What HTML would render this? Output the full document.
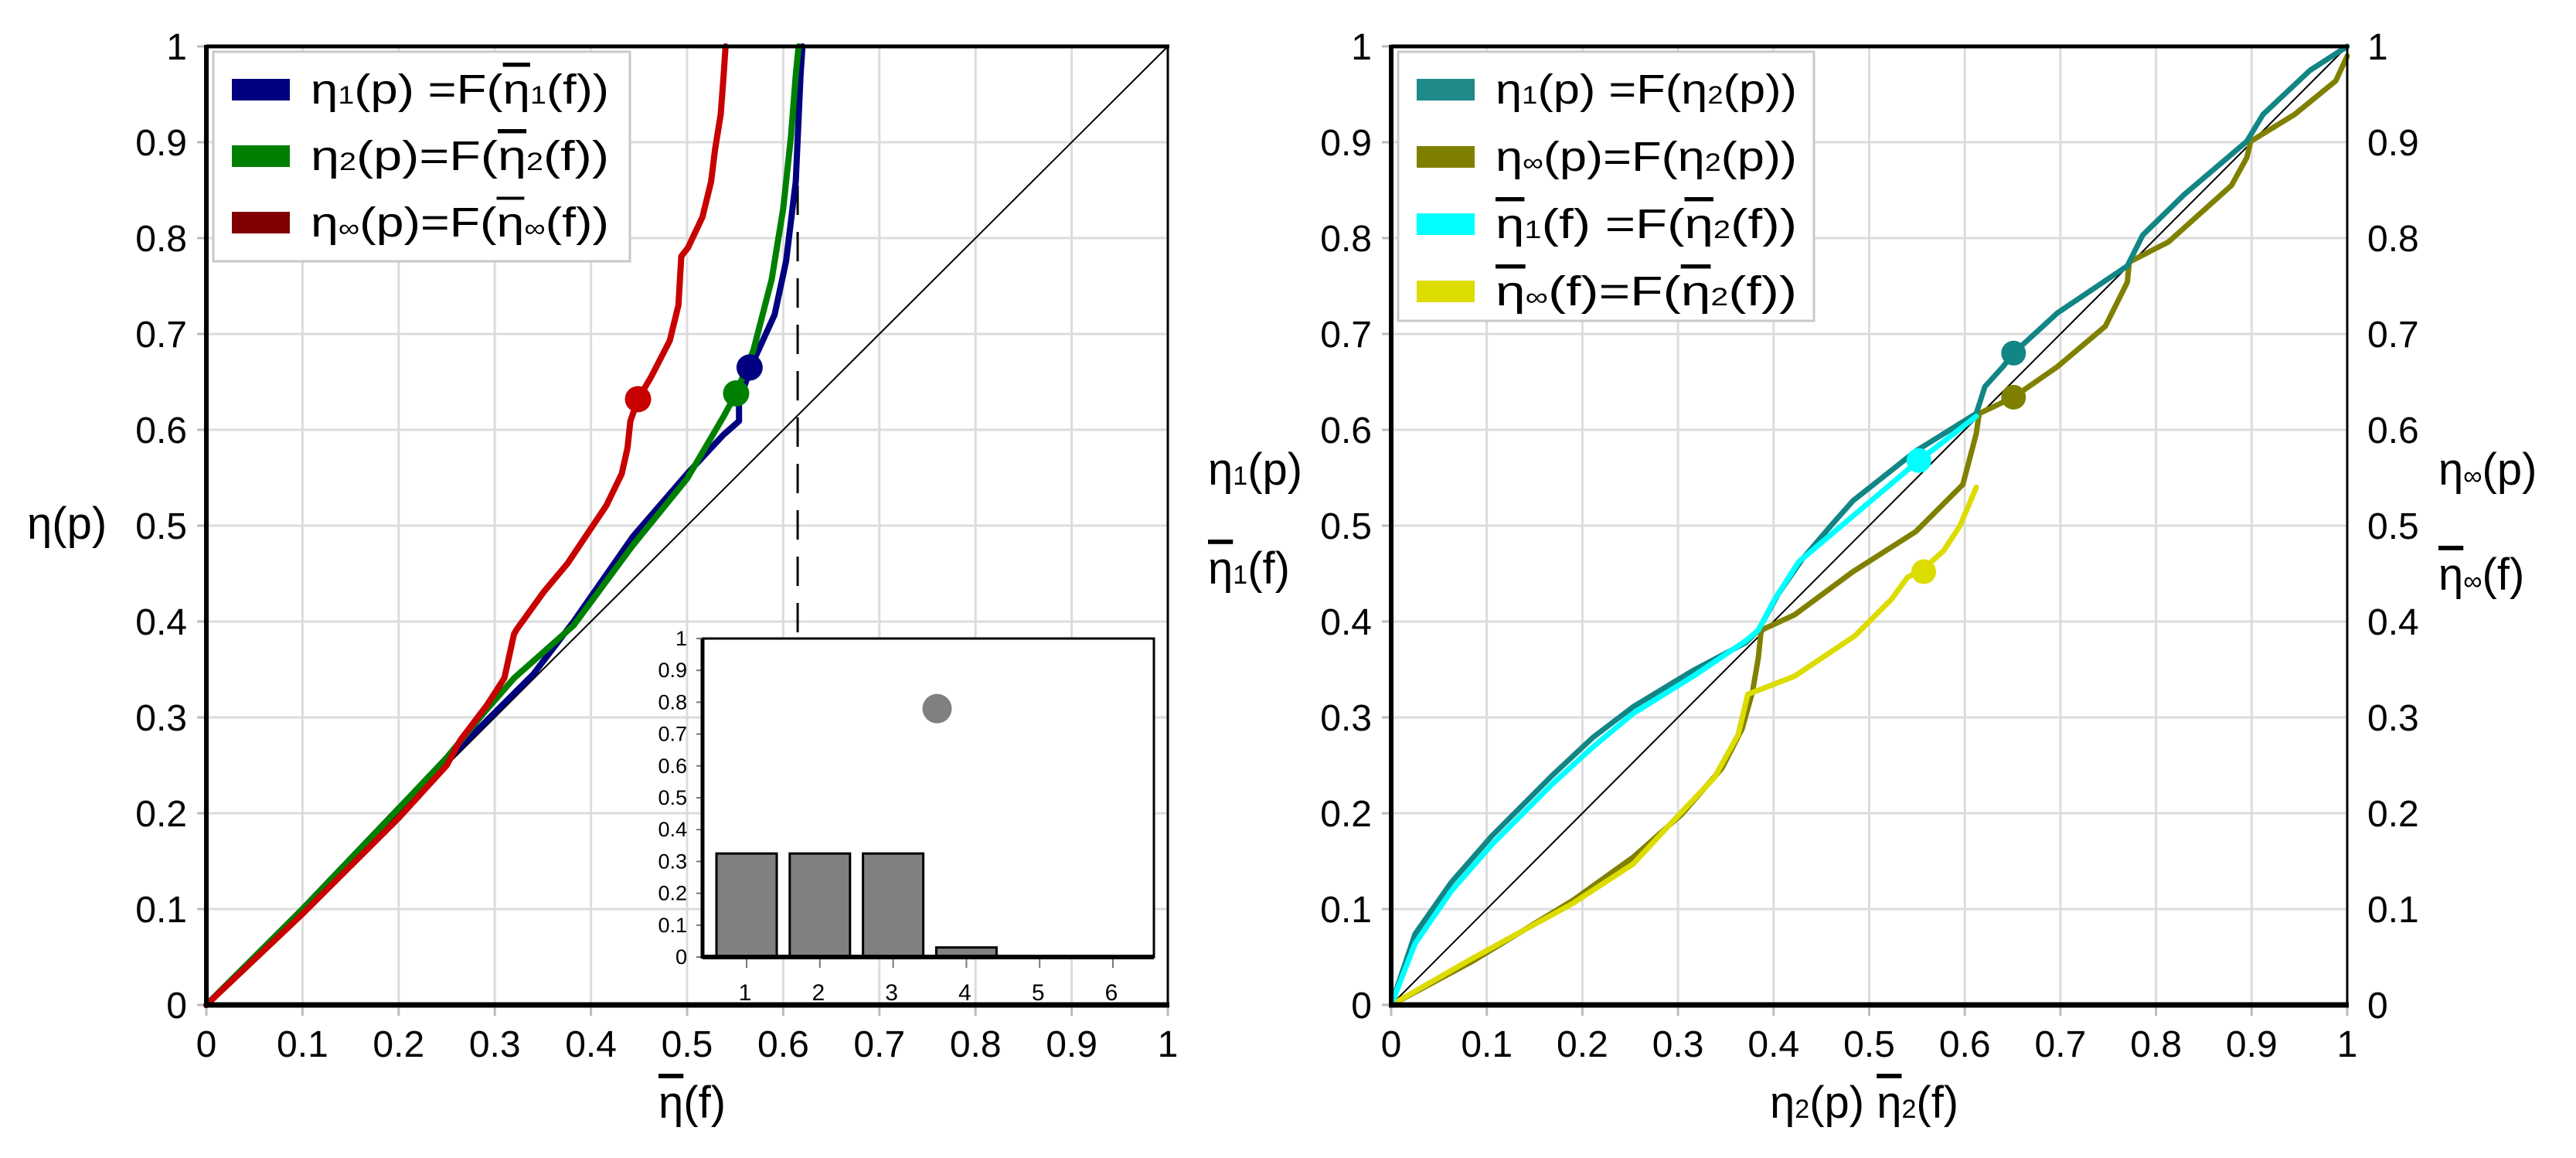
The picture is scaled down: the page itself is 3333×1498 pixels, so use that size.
<!DOCTYPE html>
<html><head><meta charset="utf-8"><title>Efficiency curves</title>
<style>
html,body{margin:0;padding:0;background:#fff;}
svg{display:block;font-family:"Liberation Sans",sans-serif;}
.ob{text-decoration:overline;}
</style></head>
<body>
<svg id="chart" width="3333" height="1498" viewBox="0 0 3333 1498" xmlns="http://www.w3.org/2000/svg">
<rect x="0" y="0" width="3333" height="1498" fill="#fff"/>
<g id="left"></g>
<g id="right"></g>
<g id="inset"></g>
<g id="labels">
  <text x="35" y="697" font-size="58">η(p)</text>
  <text x="852" y="1446" font-size="58"><tspan class="ob">η</tspan>(f)</text>
  <text x="1563" y="627" font-size="58">η<tspan font-size="34">1</tspan>(p)</text>
  <text x="1563" y="755" font-size="58"><tspan class="ob">η</tspan><tspan font-size="34">1</tspan>(f)</text>
  <text x="3155" y="627" font-size="58">η<tspan font-size="34">∞</tspan>(p)</text>
  <text x="3155" y="763" font-size="58"><tspan class="ob">η</tspan><tspan font-size="34">∞</tspan>(f)</text>
  <text x="2290" y="1446" font-size="58">η<tspan font-size="34">2</tspan>(p) <tspan class="ob">η</tspan><tspan font-size="34">2</tspan>(f)</text>
</g>
<g id="legends"></g>
</svg>
<script>
// ---------- data ----------
const tickValues = [0,0.1,0.2,0.3,0.4,0.5,0.6,0.7,0.8,0.9,1];
const tickLabels = ["0","0.1","0.2","0.3","0.4","0.5","0.6","0.7","0.8","0.9","1"];

// left chart series
const eta1X = [0,0.1,0.2,0.26,0.3,0.34,0.382,0.444,0.5,0.538,0.554,0.554,0.566,0.591,0.603,0.613,0.618,0.62];
const eta1Y = [0,0.1,0.205,0.265,0.305,0.345,0.40,0.489,0.554,0.595,0.609,0.628,0.665,0.72,0.776,0.859,0.97,1.0];
const eta2X = [0,0.1,0.2,0.25,0.288,0.32,0.382,0.444,0.5,0.538,0.551,0.569,0.588,0.6,0.608,0.613,0.616];
const eta2Y = [0,0.1,0.205,0.258,0.304,0.341,0.396,0.48,0.549,0.614,0.638,0.683,0.757,0.831,0.906,0.97,1.0];
const etaInfX = [0,0.1,0.2,0.25,0.264,0.292,0.31,0.32,0.323,0.351,0.376,0.398,0.416,0.432,0.438,0.441,0.449,0.463,0.482,0.491,0.494,0.501,0.516,0.525,0.529,0.535,0.538,0.54];
const etaInfY = [0,0.095,0.195,0.25,0.276,0.313,0.341,0.387,0.392,0.431,0.461,0.494,0.521,0.554,0.581,0.609,0.632,0.656,0.693,0.730,0.781,0.790,0.822,0.859,0.892,0.929,0.970,1.0];
const leftDotsX = [0.565,0.551,0.449];
const leftDotsY = [0.665,0.638,0.632];
const dashedX = 0.615;

// right chart series
const tealX = [0,0.025,0.063,0.105,0.169,0.211,0.253,0.316,0.371,0.384,0.405,0.43,0.46,0.483,0.549,0.612,0.621,0.64,0.651,0.697,0.77,0.786,0.829,0.895,0.912,0.961,1.0];
const tealY = [0,0.074,0.128,0.176,0.24,0.279,0.311,0.349,0.378,0.391,0.429,0.465,0.5,0.526,0.578,0.617,0.645,0.666,0.68,0.722,0.771,0.803,0.845,0.901,0.929,0.975,1.0];
const oliveX = [0,0.084,0.19,0.253,0.304,0.346,0.367,0.378,0.384,0.387,0.422,0.483,0.549,0.598,0.612,0.615,0.651,0.697,0.747,0.77,0.772,0.813,0.879,0.895,0.899,0.945,0.988,1.0];
const oliveY = [0,0.045,0.109,0.154,0.199,0.247,0.288,0.327,0.362,0.391,0.407,0.452,0.494,0.543,0.596,0.617,0.634,0.666,0.708,0.754,0.775,0.796,0.855,0.884,0.901,0.929,0.964,0.99];
const cyanX = [0,0.025,0.063,0.105,0.169,0.211,0.253,0.316,0.371,0.384,0.401,0.426,0.477,0.552,0.612];
const cyanY = [0,0.064,0.119,0.167,0.231,0.269,0.304,0.343,0.38,0.391,0.423,0.462,0.505,0.568,0.614];
const yellowX = [0,0.084,0.19,0.253,0.295,0.338,0.363,0.373,0.422,0.485,0.523,0.54,0.557,0.578,0.595,0.612];
const yellowY = [0,0.048,0.106,0.147,0.192,0.237,0.282,0.324,0.343,0.385,0.423,0.446,0.455,0.474,0.50,0.54];
const rightDotsX = [0.651,0.651,0.552,0.557];
const rightDotsY = [0.68,0.634,0.568,0.452];

// inset bars
const barCats = ["1","2","3","4","5","6"];
const barVals = [0.325,0.325,0.325,0.03,0,0];
const insetDotCat = 3.6;
const insetDotVal = 0.78;
const insetTickLabels = ["0","0.1","0.2","0.3","0.4","0.5","0.6","0.7","0.8","0.9","1"];
const insetTickValues = [0,0.1,0.2,0.3,0.4,0.5,0.6,0.7,0.8,0.9,1];

// ---------- helpers ----------
const NS = "http://www.w3.org/2000/svg";
function mk(tag, attrs, parent){
  const e = document.createElementNS(NS, tag);
  for (const k in attrs) e.setAttribute(k, attrs[k]);
  parent.appendChild(e);
  return e;
}
function axes(L, R, T, B){
  return { x: v => L + v*(R-L), y: v => B - v*(B-T), L, R, T, B };
}

function drawFrame(g, ax, rightLabels){
  tickValues.forEach((v,i)=>{
    if (i>0 && i<10){
      const gx = mk('line',{x1:ax.x(v),x2:ax.x(v),y1:ax.T,y2:ax.B,stroke:'#dcdcdc','stroke-width':3},g);
      
      
      const gy = mk('line',{x1:ax.L,x2:ax.R,y1:ax.y(v),y2:ax.y(v),stroke:'#dcdcdc','stroke-width':3},g);
      
      
    }
    const tx = mk('line',{x1:ax.x(v),x2:ax.x(v),y1:ax.B,y2:ax.B+14,stroke:'#bbb','stroke-width':3},g);
    
    
    const ty = mk('line',{x1:ax.L-12,x2:ax.L,y1:ax.y(v),y2:ax.y(v),stroke:'#bbb','stroke-width':3},g);
    
    
    const xl = mk('text',{x:ax.x(v),y:1367,'font-size':48,'text-anchor':'middle'},g);
    xl.textContent = tickLabels[i];
    
    
    const yl = mk('text',{x:ax.L-25,y:ax.y(v)+17,'font-size':48,'text-anchor':'end'},g);
    yl.textContent = tickLabels[i];
    
    
    if (rightLabels){
      const rl = mk('text',{x:ax.R+26,y:ax.y(v)+17,'font-size':48,'text-anchor':'start'},g);
      rl.textContent = tickLabels[i];
      
      
    }
  });
  const diag = mk('line',{x1:ax.x(0),y1:ax.y(0),x2:ax.x(1),y2:ax.y(1),stroke:'#000','stroke-width':2},g);
  
  
}
function drawBorders(g, ax){
  const t = mk('line',{x1:ax.L,x2:ax.R+2,y1:ax.T,y2:ax.T,stroke:'#000','stroke-width':5},g);
  
  
  const r = mk('line',{x1:ax.R,x2:ax.R,y1:ax.T,y2:ax.B,stroke:'#000','stroke-width':3},g);
  
  
  const l = mk('line',{x1:ax.L,x2:ax.L,y1:ax.T-2,y2:ax.B+3,stroke:'#000','stroke-width':6},g);
  
  
  const b = mk('line',{x1:ax.L-3,x2:ax.R+2,y1:ax.B,y2:ax.B,stroke:'#000','stroke-width':7},g);
  
  
}
function drawLine(g, ax, xs, ys, color, w, name){
  const d = xs.map((v,i)=>(i?'L':'M')+ax.x(v).toFixed(1)+','+ax.y(ys[i]).toFixed(1)).join(' ');
  const p = mk('path',{d:d,fill:'none',stroke:color,'stroke-width':w,'stroke-linejoin':'round','stroke-linecap':'round'},g);
  
  
}
function drawDot(g, ax, x, y, color, r, name){
  const c = mk('circle',{cx:ax.x(x),cy:ax.y(y),r:r,fill:color},g);
  
  
}
function legend(parent, x, y, w, h, entries, rowStart, rowGap, name){
  const g = mk('g',{},parent);
  
  
  mk('rect',{x:x,y:y,width:w,height:h,fill:'#fff',stroke:'#c8c8c8','stroke-width':3},g);
  entries.forEach((e,i)=>{
    const cy = rowStart + i*rowGap;
    const eg = mk('g',{},g);
    
    
    mk('rect',{x:x+24,y:cy-14,width:75,height:28,fill:e.c},eg);
    const t = mk('text',{x:x+126,y:cy+18,'font-size':54,textLength:e.w,lengthAdjust:'spacingAndGlyphs'},eg);
    t.innerHTML = e.t;
  });
}

// ---------- left chart ----------
const gl = document.getElementById('left');
const axL = axes(267,1511,60,1300);
drawFrame(gl, axL, false);
const dash = mk('line',{x1:axL.x(dashedX),x2:axL.x(dashedX),y1:axL.T,y2:820,stroke:'#000','stroke-width':3,'stroke-dasharray':'38,22'},gl);


drawLine(gl, axL, eta1X, eta1Y, '#000080', 8, 'eta1-line');
drawLine(gl, axL, eta2X, eta2Y, '#008000', 8, 'eta2-line');
drawLine(gl, axL, etaInfX, etaInfY, '#c80000', 8, 'eta-inf-line');
drawDot(gl, axL, leftDotsX[0], leftDotsY[0], '#000080', 17, 'eta1-point');
drawDot(gl, axL, leftDotsX[1], leftDotsY[1], '#008000', 17, 'eta2-point');
drawDot(gl, axL, leftDotsX[2], leftDotsY[2], '#c80000', 17, 'eta-inf-point');
drawBorders(gl, axL);

// ---------- inset ----------
const gi = document.getElementById('inset');
const iL=909, iR=1493, iT=826, iB=1238;
mk('rect',{x:iL,y:iT,width:iR-iL,height:iB-iT,fill:'#fff',stroke:'#000','stroke-width':3},gi);
const iy = v => iB - v*(iB-iT);
const ix = c => 966 + (c-1)*94.8;
insetTickValues.forEach((v,i)=>{
  const tk = mk('line',{x1:iL-8,x2:iL,y1:iy(v),y2:iy(v),stroke:'#777','stroke-width':2},gi);
  
  
  const t = mk('text',{x:iL-20,y:iy(v)+9,'font-size':27,'text-anchor':'end'},gi);
  t.textContent = insetTickLabels[i];
  
  
});
barCats.forEach((c,i)=>{
  const cx = ix(i+1);
  if (barVals[i]>0){
    const b = mk('rect',{x:cx-39,y:iy(barVals[i]),width:78,height:iy(0)-iy(barVals[i]),fill:'#808080',stroke:'#000','stroke-width':3},gi);
    
    
  }
  const tk = mk('line',{x1:cx,x2:cx,y1:iB,y2:iB+14,stroke:'#777','stroke-width':2},gi);
  
  
  const t = mk('text',{x:cx-2,y:iB+56,'font-size':30,'text-anchor':'middle'},gi);
  t.textContent = c;
  
  
});
const il = mk('line',{x1:iL,x2:iL,y1:iT,y2:iB+2,stroke:'#000','stroke-width':5},gi);


const ib = mk('line',{x1:iL,x2:iR,y1:iB,y2:iB,stroke:'#000','stroke-width':6},gi);


const idot = mk('circle',{cx:ix(insetDotCat),cy:iy(insetDotVal),r:19,fill:'#808080'},gi);



// ---------- right chart ----------
const gr = document.getElementById('right');
const axR = axes(1800,3037,60,1300);
drawFrame(gr, axR, true);
drawLine(gr, axR, oliveX, oliveY, '#808000', 7, 'eta-inf-vs-eta2-line');
drawLine(gr, axR, yellowX, yellowY, '#dcdc00', 7, 'etabar-inf-vs-etabar2-line');
drawLine(gr, axR, tealX, tealY, '#128585', 7, 'eta1-vs-eta2-line');
drawLine(gr, axR, cyanX, cyanY, '#00ffff', 7, 'etabar1-vs-etabar2-line');
drawDot(gr, axR, rightDotsX[0], rightDotsY[0], '#128585', 16, 'eta1-point');
drawDot(gr, axR, rightDotsX[1], rightDotsY[1], '#808000', 16, 'eta-inf-point');
drawDot(gr, axR, rightDotsX[2], rightDotsY[2], '#00ffff', 16, 'etabar1-point');
drawDot(gr, axR, rightDotsX[3], rightDotsY[3], '#dcdc00', 16, 'etabar-inf-point');
drawBorders(gr, axR);

// ---------- legends ----------
const lg = document.getElementById('legends');
const sub = s => '<tspan font-size="32">'+s+'</tspan>';
const ob = '<tspan class="ob">η</tspan>';
legend(lg, 276, 67, 539, 271, [
  {c:'#000080', t:'η'+sub('1')+'(p) =F('+ob+sub('1')+'(f))', w:386},
  {c:'#008000', t:'η'+sub('2')+'(p)=F('+ob+sub('2')+'(f))', w:386},
  {c:'#800000', t:'η'+sub('∞')+'(p)=F('+ob+sub('∞')+'(f))', w:386}
], 116, 86, 'left-legend');
legend(lg, 1809, 67, 538, 348, [
  {c:'#1e8a8a', t:'η'+sub('1')+'(p) =F(η'+sub('2')+'(p))', w:390},
  {c:'#808000', t:'η'+sub('∞')+'(p)=F(η'+sub('2')+'(p))', w:390},
  {c:'#00ffff', t:ob+sub('1')+'(f) =F('+ob+sub('2')+'(f))', w:390},
  {c:'#dcdc00', t:ob+sub('∞')+'(f)=F('+ob+sub('2')+'(f))', w:390}
], 116, 87, 'right-legend');
</script>
</body></html>
